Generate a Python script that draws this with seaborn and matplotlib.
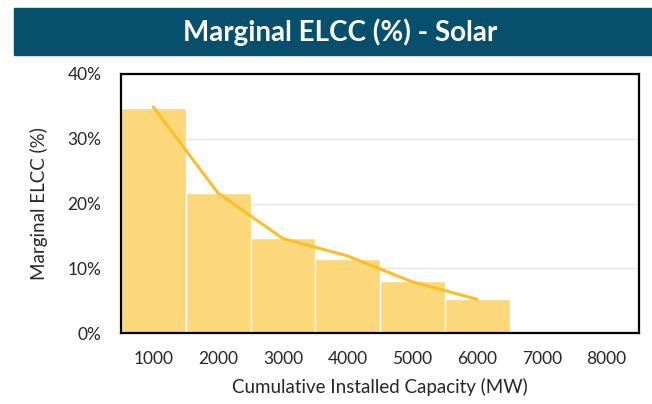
import pandas as pd
import numpy as np
import seaborn as sns
import matplotlib.pyplot as plt
from matplotlib.patches import Rectangle
from matplotlib.ticker import PercentFormatter

# values
capacity_mw = [1000, 2000, 3000, 4000, 5000, 6000]
bar_elcc = [34.8, 21.6, 14.6, 11.5, 8.0, 5.2]
line_elcc = [34.9, 21.6, 14.6, 11.9, 7.9, 5.2]
x_ticks = [1000, 2000, 3000, 4000, 5000, 6000, 7000, 8000]
y_ticks = [0, 10, 20, 30, 40]

df = pd.DataFrame({'capacity': capacity_mw, 'bar': bar_elcc, 'line': line_elcc})

sns.set_style('white')
plt.rcParams['font.family'] = ['Lato', 'DejaVu Sans']

fig = plt.figure(figsize=(6.52, 4.04), dpi=100)

# title banner
fig.patches.append(Rectangle((14 / 652, 1 - 55 / 404), 1 - 14 / 652, 47 / 404,
                             transform=fig.transFigure, color='#07506D', zorder=0))
fig.text(340 / 652, 1 - 32 / 404, 'Marginal ELCC (%) - Solar', ha='center', va='center',
         color='white', fontsize=20, fontweight='bold')

ax = fig.add_axes([121 / 652, 1 - 333 / 404, 518 / 652, 259 / 404])

sns.barplot(data=df, x='capacity', y='bar', native_scale=True, width=1.0,
            color='#FDD87A', saturation=1, edgecolor='white', linewidth=1, ax=ax, zorder=2)
sns.lineplot(data=df, x='capacity', y='line', color='#FBBF2A', linewidth=2.2, ax=ax, zorder=3)

ax.set_xlim(500, 8500)
ax.set_ylim(0, 40)
ax.set_xticks(x_ticks)
ax.set_xticklabels([str(t) for t in x_ticks])
ax.set_yticks(y_ticks)
ax.yaxis.set_major_formatter(PercentFormatter(decimals=0))
ax.grid(axis='y', color='#E6E6E6', linewidth=1, zorder=0)
ax.set_axisbelow(True)
ax.tick_params(axis='both', length=0, labelsize=12.5, colors='#262626', pad=13)
ax.tick_params(axis='y', pad=14)

for s in ax.spines.values():
    s.set_visible(True)
    s.set_color('black')
    s.set_linewidth(1.6)

ax.set_xlabel('Cumulative Installed Capacity (MW)', fontsize=13.5, color='#262626', labelpad=8)
ax.set_ylabel('Marginal ELCC (%)', fontsize=13.5, color='#262626', labelpad=14)

fig.savefig('out.png', dpi=100)
